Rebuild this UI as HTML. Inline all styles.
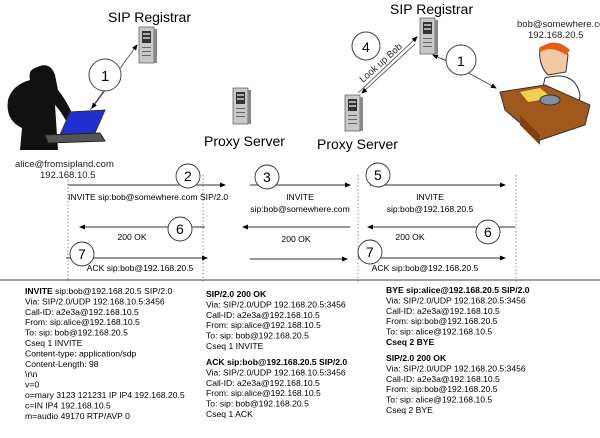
<!DOCTYPE html>
<html><head><meta charset="utf-8"><style>
body{margin:0;background:#fff;width:600px;height:438px;overflow:hidden}
svg{display:block}
text{font-family:"Liberation Sans",sans-serif;fill:#000}
.s{font-size:8.6px}
.b{font-weight:bold}
.t{font-size:14px}
.l{font-size:9.5px;fill:#222}
</style></head><body>
<svg width="600" height="438" viewBox="0 0 600 438" xmlns="http://www.w3.org/2000/svg">
<defs>
<marker id="a" markerWidth="6" markerHeight="6" refX="5" refY="3" orient="auto" markerUnits="userSpaceOnUse"><path d="M0,0.5 L6,3 L0,5.5z" fill="#000"/></marker>
<g id="srv">
<rect x="0" y="0" width="15" height="36" fill="#c8c8c8" stroke="#555" stroke-width="0.7"/>
<rect x="15" y="2" width="3" height="34" fill="#888"/>
<rect x="3" y="4" width="9" height="12" fill="#333"/>
<rect x="4" y="6" width="7" height="2" fill="#aaa"/>
<rect x="4" y="10" width="7" height="2" fill="#aaa"/>
<rect x="3" y="20" width="9" height="1" fill="#666"/>
<rect x="3" y="24" width="9" height="1" fill="#666"/>
<rect x="3" y="28" width="9" height="1" fill="#666"/>
</g>
</defs>

<!-- left top -->
<text class="t" x="108" y="22">SIP Registrar</text>
<use href="#srv" x="139" y="27"/>
<line x1="90" y1="110" x2="137" y2="45" stroke="#444" stroke-width="0.8" marker-end="url(#a)"/>
<line x1="113" y1="80" x2="92" y2="108" stroke="#444" stroke-width="0.8" marker-end="url(#a)"/>
<circle cx="105" cy="75" r="16" fill="#fff" stroke="#444"/>
<text x="101" y="81" font-size="15">1</text>
<!-- alice figure -->
<path d="M35,68 Q50,60 55,75 L58,90 Q70,105 78,128 L72,132 Q62,112 55,105 L58,150 L20,150 L22,128 Q5,120 8,100 Q12,85 30,80 Q28,70 35,68z" fill="#111"/>
<polygon points="70,112 105,110 95,133 60,135" fill="#2030d0" stroke="#333"/>
<polygon points="45,135 100,133 105,141 48,143" fill="#555" stroke="#222"/>
<text class="l" x="15" y="167">alice@fromsipland.com</text>
<text class="l" x="40" y="178">192.168.10.5</text>

<!-- proxy 1 -->
<use href="#srv" x="233" y="88"/>
<text class="t" x="204" y="146">Proxy Server</text>

<!-- right top -->
<text class="t" x="390" y="14">SIP Registrar</text>
<use href="#srv" x="420" y="18"/>
<line x1="358" y1="93" x2="417" y2="37" stroke="#444" stroke-width="0.8" marker-end="url(#a)"/>
<line x1="415" y1="44" x2="362" y2="93" stroke="#444" stroke-width="0.8" marker-end="url(#a)"/>
<text class="l" x="0" y="0" transform="translate(363,83) rotate(-42)">Look up Bob</text>
<circle cx="366" cy="46" r="14" fill="#fff" stroke="#444"/>
<text x="362" y="52" font-size="14">4</text>
<use href="#srv" x="345" y="95"/>
<text class="t" x="317" y="149">Proxy Server</text>
<line x1="441" y1="58" x2="496" y2="88" stroke="#444" stroke-width="0.8" marker-end="url(#a)"/>
<line x1="458" y1="66" x2="433" y2="55" stroke="#444" stroke-width="0.8" marker-end="url(#a)"/>
<circle cx="461" cy="60" r="15" fill="#fff" stroke="#444"/>
<text x="457" y="66" font-size="14">1</text>
<text class="l" x="517" y="27">bob@somewhere.com</text>
<text class="l" x="528" y="38">192.168.20.5</text>
<!-- bob figure -->
<path d="M540,48 Q560,38 568,55 L566,72 L548,75 Q538,65 540,48z" fill="#f2c9a0" stroke="#333"/>
<path d="M540,48 Q555,36 570,50 L566,55 Q552,45 540,52z" fill="#e0601a"/>
<path d="M545,78 Q575,70 580,95 L578,115 L540,100z" fill="#fff" stroke="#333"/>
<polygon points="500,92 545,85 590,105 585,125 540,140 505,110" fill="#a0581c" stroke="#333"/>
<polygon points="520,92 540,88 552,98 528,102" fill="#f0d050"/>
<ellipse cx="550" cy="100" rx="10" ry="5" fill="#8090a8" stroke="#333"/>
<polygon points="520,115 540,135 540,145 520,125" fill="#804010"/>

<!-- dotted verticals -->
<g stroke="#777" stroke-width="0.8" stroke-dasharray="1.5,2">
<line x1="68" y1="180" x2="68" y2="282"/>
<line x1="203" y1="175" x2="203" y2="282"/>
<line x1="358" y1="175" x2="358" y2="282"/>
<line x1="516" y1="175" x2="516" y2="282"/>
</g>
<g stroke="#333" stroke-width="0.9" marker-end="url(#a)">
<line x1="68" y1="185" x2="225" y2="185"/>
<line x1="250" y1="185" x2="350" y2="185"/>
<line x1="370" y1="185" x2="505" y2="185"/>
<line x1="205" y1="227" x2="80" y2="227"/>
<line x1="350" y1="227" x2="243" y2="227"/>
<line x1="515" y1="227" x2="368" y2="227"/>
<line x1="66" y1="258" x2="207" y2="258"/>
<line x1="250" y1="259" x2="347" y2="259"/>
<line x1="358" y1="258" x2="505" y2="258"/>
</g>
<text class="s" x="68" y="200">INVITE sip:bob@somewhere.com SIP/2.0</text>
<text class="s" x="300" y="200" text-anchor="middle">INVITE</text>
<text class="s" x="300" y="212" text-anchor="middle">sip:bob@somewhere.com</text>
<text class="s" x="430" y="200" text-anchor="middle">INVITE</text>
<text class="s" x="430" y="212" text-anchor="middle">sip:bob@192.168.20.5</text>
<text class="s" x="132" y="240" text-anchor="middle">200 OK</text>
<text class="s" x="296" y="242" text-anchor="middle">200 OK</text>
<text class="s" x="410" y="240" text-anchor="middle">200 OK</text>
<text class="s" x="140" y="271" text-anchor="middle">ACK sip:bob@192.168.20.5</text>
<text class="s" x="425" y="271" text-anchor="middle">ACK sip:bob@192.168.20.5</text>
<g fill="#fff" stroke="#333" stroke-width="0.9">
<circle cx="188" cy="176" r="12"/><circle cx="267" cy="177" r="12"/><circle cx="378" cy="175" r="12"/>
<circle cx="180" cy="229" r="12"/><circle cx="488" cy="232" r="12"/>
<circle cx="82" cy="254" r="12"/><circle cx="370" cy="252" r="12"/>
</g>
<g font-size="14">
<text x="184" y="181">2</text><text x="263" y="182">3</text><text x="374" y="180">5</text>
<text x="176" y="234">6</text><text x="484" y="237">6</text>
<text x="78" y="259">7</text><text x="366" y="257">7</text>
</g>
<line x1="0" y1="280" x2="600" y2="280" stroke="#444" stroke-width="1"/>

<!-- bottom text -->
<g class="s">
<text x="25" y="294"><tspan class="b">INVITE</tspan> sip:bob@192.168.20.5 SIP/2.0</text>
<text x="25" y="304.4">Via: SIP/2.0/UDP 192.168.10.5:3456</text>
<text x="25" y="314.8">Call-ID: a2e3a@192.168.10.5</text>
<text x="25" y="325.2">From: sip:alice@192.168.10.5</text>
<text x="25" y="335.6">To: sip: bob@192.168.20.5</text>
<text x="25" y="346">Cseq 1 INVITE</text>
<text x="25" y="356.4">Content-type: application/sdp</text>
<text x="25" y="366.8">Content-Length: 98</text>
<text x="25" y="377.2">\r\n</text>
<text x="25" y="387.6">v=0</text>
<text x="25" y="398">o=mary 3123 121231 IP IP4 192.168.20.5</text>
<text x="25" y="408.4">c=IN IP4 192.168.10.5</text>
<text x="25" y="418.8">m=audio 49170 RTP/AVP 0</text>

<text x="206" y="297" class="b">SIP/2.0 200 OK</text>
<text x="206" y="307.4">Via: SIP/2.0/UDP 192.168.20.5:3456</text>
<text x="206" y="317.8">Call-ID: a2e3a@192.168.10.5</text>
<text x="206" y="328.2">From: sip:alice@192.168.10.5</text>
<text x="206" y="338.6">To: sip: bob@192.168.20.5</text>
<text x="206" y="349">Cseq 1 INVITE</text>
<text x="206" y="365" class="b">ACK sip:bob@192.168.20.5 SIP/2.0</text>
<text x="206" y="375.4">Via: SIP/2.0/UDP 192.168.10.5:3456</text>
<text x="206" y="385.8">Call-ID: a2e3a@192.168.10.5</text>
<text x="206" y="396.2">From: sip:alice@192.168.10.5</text>
<text x="206" y="406.6">To: sip: bob@192.168.20.5</text>
<text x="206" y="417">Cseq 1 ACK</text>

<text x="386" y="293" class="b">BYE sip:alice@192.168.20.5 SIP/2.0</text>
<text x="386" y="303.4">Via: SIP/2.0/UDP 192.168.20.5:3456</text>
<text x="386" y="313.8">Call-ID: a2e3a@192.168.10.5</text>
<text x="386" y="324.2">From: sip:bob@192.168.20.5</text>
<text x="386" y="334.6">To: sip: alice@192.168.10.5</text>
<text x="386" y="345" class="b">Cseq 2 BYE</text>
<text x="386" y="361" class="b">SIP/2.0 200 OK</text>
<text x="386" y="371.4">Via: SIP/2.0/UDP 192.168.20.5:3456</text>
<text x="386" y="381.8">Call-ID: a2e3a@192.168.10.5</text>
<text x="386" y="392.2">From: sip:bob@192.168.20.5</text>
<text x="386" y="402.6">To: sip: alice@192.168.10.5</text>
<text x="386" y="413">Cseq 2 BYE</text>
</g>
</svg>
</body></html>
